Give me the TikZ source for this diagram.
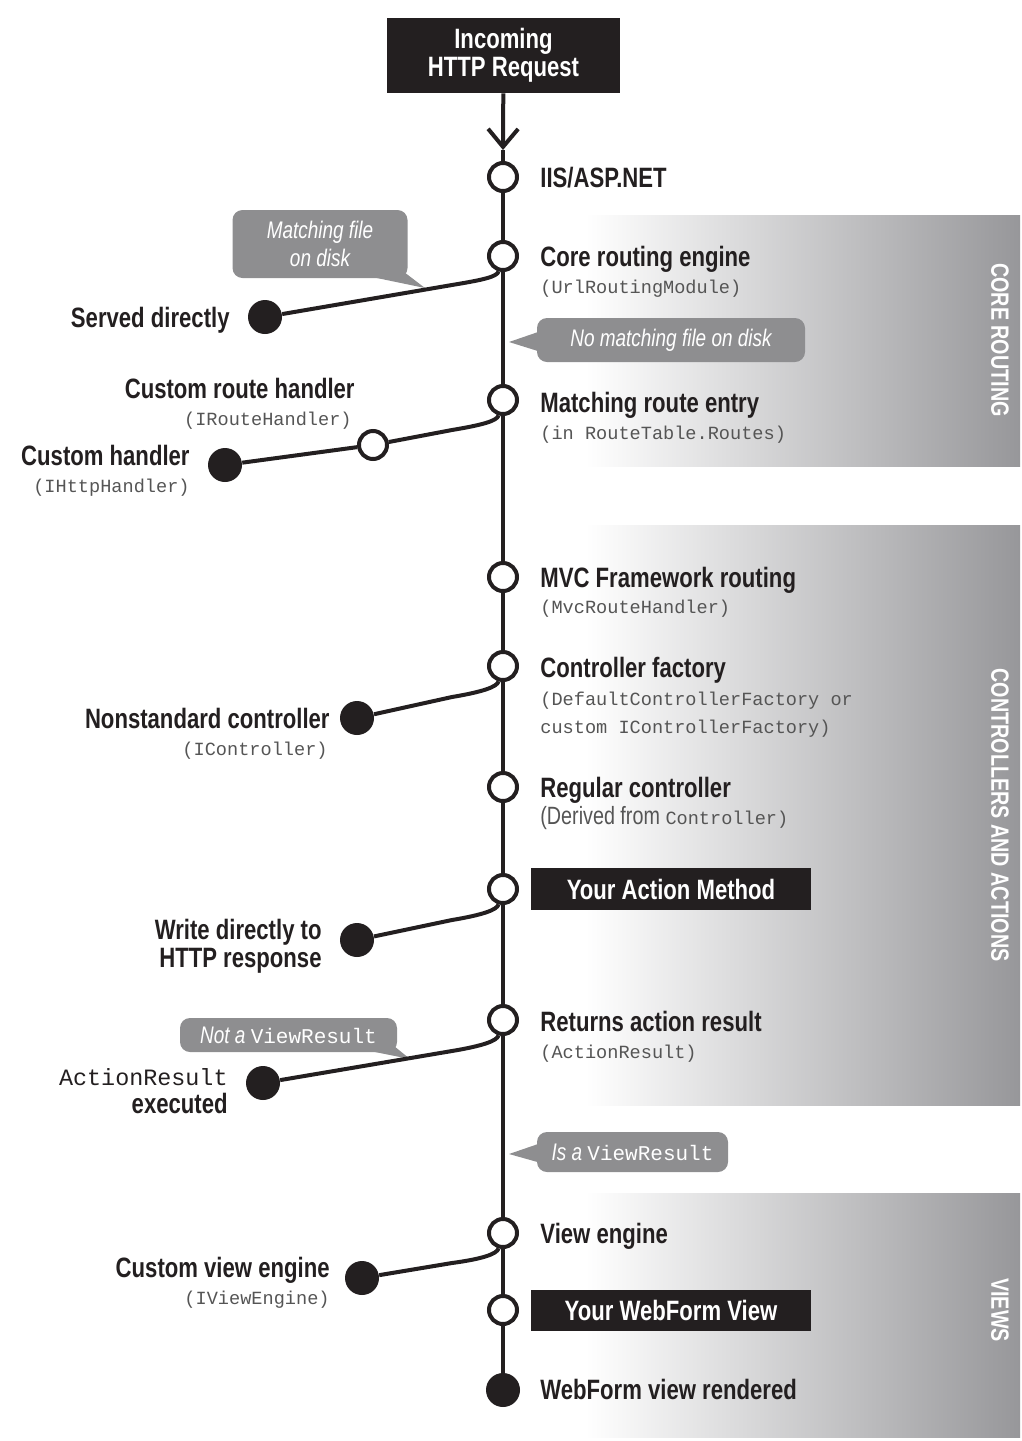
\documentclass[tikz,border=0pt]{standalone}
\usepackage{fontspec}
\setmainfont[FakeStretch=0.79]{Liberation Sans}
\setmonofont{Liberation Mono}
\usetikzlibrary{arrows.meta}
\definecolor{inkblack}{HTML}{231F20}
\definecolor{codegray}{HTML}{555555}
\definecolor{calloutgray}{HTML}{8E8E90}
\definecolor{bandgray}{HTML}{97979A}
\pgfdeclarehorizontalshading{bandshade}{100bp}{color(0bp)=(white); color(28bp)=(white); color(75bp)=(bandgray); color(100bp)=(bandgray)}
\begin{document}
\begin{tikzpicture}[
                    x=0.5pt, y=-0.5pt,
                    waypoint/.style={circle, draw=inkblack, fill=white, line width=2pt, minimum size=14pt, inner sep=0pt},
                    endpoint/.style={circle, fill=inkblack, minimum size=17pt, inner sep=0pt},
                    lbl/.style={anchor=base west, inner sep=0pt, text=inkblack, font=\fontsize{14}{17}\selectfont\bfseries},
                    lbleast/.style={lbl, anchor=base east, align=right},
                    code/.style={anchor=base west, inner sep=0pt, text=codegray, font=\fontsize{9.3}{11}\selectfont\ttfamily},
                    codeeast/.style={code, anchor=base east},
                    blackbox/.style={fill=inkblack, text=white, inner sep=0pt, align=center, font=\fontsize{14}{14}\selectfont\bfseries},
                    note/.style={rectangle, fill=calloutgray, text=white, rounded corners=5pt, inner sep=0pt, align=center, font=\fontsize{12}{14}\selectfont\itshape},
                    band/.style={shading=bandshade},
                    bandlbl/.style={rotate=-90, text=white, inner sep=0pt, font=\fontsize{12.5}{14}\selectfont\bfseries},
                    link/.style={draw=inkblack, line width=2pt}
                    ]
    \useasboundingbox (0,0) rectangle (1022,1441);

    % shaded bands
    \fill[band] (558,215) rectangle (1020,466);
    \fill[band] (558,525) rectangle (1020,1105);
    \fill[band] (558,1193) rectangle (1020,1437);
    \node[bandlbl] (routingband) at (1000,340) {CORE ROUTING};
    \node[bandlbl] (controllerband) at (1000,815) {CONTROLLERS AND ACTIONS};
    \node[bandlbl] (viewsband) at (1000,1310) {VIEWS};

    % request
    \node[blackbox, minimum width=116.5pt, minimum height=37.5pt] (incoming) at (503.5,55.5) {Incoming\\HTTP Request};
    \coordinate (arrowtip) at (503,150);

    % main line stops
    \node[waypoint] (iis) at (503,177) {};
    \node[waypoint] (core) at (503,256) {};
    \node[waypoint] (routeentry) at (503,400) {};
    \node[waypoint] (mvc) at (503,577) {};
    \node[waypoint] (factory) at (503,666) {};
    \node[waypoint] (regular) at (503,787) {};
    \node[waypoint] (action) at (503,889) {};
    \node[waypoint] (returns) at (503,1020) {};
    \node[waypoint] (viewengine) at (503,1233) {};
    \node[waypoint] (webform) at (503,1310) {};
    \node[endpoint] (rendered) at (503,1390) {};

    % right labels
    \node[lbl] (iislbl) at (540,187) {IIS/ASP.NET};
    \node[lbl] (corelbl) at (540,266) {Core routing engine};
    \node[code] (corecode) at (540,293) {(UrlRoutingModule)};
    \node[lbl] (routeentrylbl) at (540,412) {Matching route entry};
    \node[code] (routeentrycode) at (540,439) {(in RouteTable.Routes)};
    \node[lbl] (mvclbl) at (540,587) {MVC Framework routing};
    \node[code] (mvccode) at (540,613) {(MvcRouteHandler)};
    \node[lbl] (factorylbl) at (540,677) {Controller factory};
    \node[code] (factorycode) at (540,705) {(DefaultControllerFactory or};
    \node[code] (factorycodeb) at (540,733) {custom IControllerFactory)};
    \node[lbl] (regularlbl) at (540,797) {Regular controller};
    \node[code] (regularcode) at (540,824) {{\rmfamily\fontsize{12.5}{14}\selectfont(Derived from }Controller)};
    \node[blackbox, minimum width=140pt, minimum height=21pt] (actionbox) at (671,889) {Your Action Method};
    \node[lbl] (returnslbl) at (540,1031) {Returns action result};
    \node[code] (returnscode) at (540,1058) {(ActionResult)};
    \node[lbl] (viewenginelbl) at (540,1243) {View engine};
    \node[blackbox, minimum width=140pt, minimum height=20.5pt] (webformbox) at (671,1310) {Your WebForm View};
    \node[lbl] (renderedlbl) at (540,1399) {WebForm view rendered};

    % callouts
    \node[note, minimum width=87.5pt, minimum height=34pt] (matchfile) at (320,244) {Matching file\\on disk};
    \fill[calloutgray] (372,277) -- (425,288) -- (404,272) -- cycle;
    \node[note, minimum width=134pt, minimum height=22pt] (nomatch) at (671,340) {No matching file on disk};
    \fill[calloutgray] (541,331) -- (509,342) -- (541,352) -- cycle;
    \node[note, minimum width=108.5pt, minimum height=17pt] (notview) at (288.5,1035) {Not a {\upshape\ttfamily\fontsize{10.5}{12}\selectfont ViewResult}};
    \node[note, minimum width=95.5pt, minimum height=20pt] (isview) at (632.5,1152) {Is a {\upshape\ttfamily\fontsize{10.5}{12}\selectfont ViewResult}};
    \fill[calloutgray] (370,1051) -- (410,1059) -- (394,1046) -- cycle;
    \fill[calloutgray] (541,1143) -- (509,1154) -- (541,1163) -- cycle;

    % side exits
    \node[endpoint] (served) at (265,317) {};
    \node[lbleast] (servedlbl) at (230,327) {Served directly};
    \node[waypoint] (routehandler) at (373,445) {};
    \node[lbleast] (routehandlerlbl) at (355,398) {Custom route handler};
    \node[codeeast] (routehandlercode) at (352,425) {(IRouteHandler)};
    \node[endpoint] (customhandler) at (225,465) {};
    \node[lbleast] (customhandlerlbl) at (190,465) {Custom handler};
    \node[codeeast] (customhandlercode) at (190,492) {(IHttpHandler)};
    \node[endpoint] (nonstandard) at (357,718) {};
    \node[lbleast] (nonstandardlbl) at (330,728) {Nonstandard controller};
    \node[codeeast] (nonstandardcode) at (328,755) {(IController)};
    \node[endpoint] (writedirect) at (357,940) {};
    \node[lbleast] (writedirectlbl) at (322,939) {Write directly to};
    \node[lbleast] (writedirectlblb) at (322,967) {HTTP response};
    \node[endpoint] (executed) at (263,1083) {};
    \node[codeeast, text=inkblack, font=\fontsize{11.7}{14}\selectfont\ttfamily] (executedcode) at (228,1085) {ActionResult};
    \node[lbleast] (executedlbl) at (228,1113) {executed};
    \node[endpoint] (customview) at (362,1278) {};
    \node[lbleast] (customviewlbl) at (330,1277) {Custom view engine};
    \node[codeeast] (customviewcode) at (330,1304) {(IViewEngine)};

    % connectors
    \draw[link, -{Straight Barb[length=9pt,width=15pt]}] (incoming) -- (arrowtip);
    \draw[link] (arrowtip) -- (iis);
    \draw[link] (iis) -- (core) -- (routeentry) -- (mvc) -- (factory) -- (regular) -- (action) -- (returns) -- (viewengine) -- (webform) -- (rendered);
    \draw[link] (core) .. controls (497,277) and (482,280) .. (452,285) -- (served);
    \draw[link] (routeentry) .. controls (497,421) and (482,425) .. (452,430) -- (routehandler);
    \draw[link] (routehandler) -- (customhandler);
    \draw[link] (factory) .. controls (497,687) and (482,692) .. (452,697) -- (nonstandard);
    \draw[link] (action) .. controls (497,910) and (482,915) .. (452,920) -- (writedirect);
    \draw[link] (returns) .. controls (497,1041) and (482,1046) .. (452,1051) -- (executed);
    \draw[link] (viewengine) .. controls (497,1254) and (482,1259) .. (452,1263) -- (customview);
\end{tikzpicture}
\end{document}
